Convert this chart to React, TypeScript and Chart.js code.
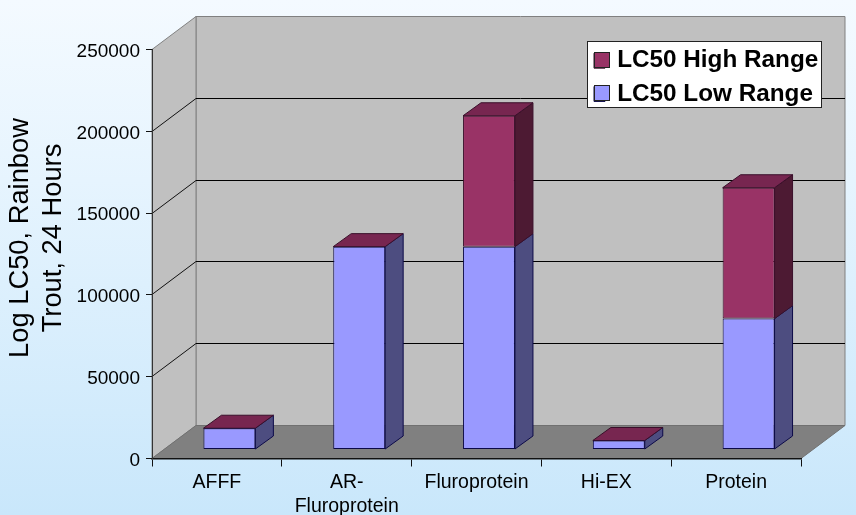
import React, { useEffect, useRef } from "react";
import { Chart, registerables } from "chart.js";

Chart.register(...registerables);

const categories: (string | string[])[] = ["AFFF", ["AR-", "Fluroprotein"], "Fluroprotein", "Hi-EX", "Protein"];
const lowRange = [13000, 124000, 124000, 5500, 80000];
const highRange = [0, 0, 80000, 0, 80000];
const yTicksMax = 250000;
const yStep = 50000;

const FONT = "'Liberation Sans', Arial, sans-serif";
const WALL_DX = 44;
const WALL_DY = -33;
const BAR_DX = 12.5;
const BAR_DY = -9;
const DEPTH_DX = 18;
const DEPTH_DY = -13;

const poly = (ctx: CanvasRenderingContext2D, pts: number[][], fill: string, stroke?: string) => {
  ctx.beginPath();
  pts.forEach((p, i) => (i ? ctx.lineTo(p[0], p[1]) : ctx.moveTo(p[0], p[1])));
  ctx.closePath();
  ctx.fillStyle = fill;
  ctx.fill();
  if (stroke) {
    ctx.strokeStyle = stroke;
    ctx.lineWidth = 1;
    ctx.stroke();
  }
};

const line = (ctx: CanvasRenderingContext2D, x1: number, y1: number, x2: number, y2: number, color: string) => {
  ctx.beginPath();
  ctx.moveTo(x1, y1);
  ctx.lineTo(x2, y2);
  ctx.strokeStyle = color;
  ctx.lineWidth = 1;
  ctx.stroke();
};

const scene = {
  id: "scene3d",
  afterLayout(chart: any) {
    const lg = chart.legend;
    lg.left = 585;
    lg.right = 825;
    lg.top = 39.5;
    lg.bottom = 130;
    lg.width = 240;
    lg.height = 90.5;
    lg.adjustHitBoxes();
    const yS = chart.scales.y;
    if (!yS.__titleShifted) {
      yS.__titleShifted = true;
      const drawTitle = yS.drawTitle.bind(yS);
      yS.drawTitle = () => {
        chart.ctx.save();
        chart.ctx.translate(0, -16);
        drawTitle();
        chart.ctx.restore();
      };
    }
  },
  beforeDraw(chart: any) {
    const { ctx, scales } = chart;
    const yS = scales.y;
    const xS = scales.x;
    const L = xS.left;
    const R = xS.right;
    const T = yS.getPixelForValue(yTicksMax);
    const B = yS.getPixelForValue(0);
    ctx.save();
    poly(ctx, [[L + WALL_DX, T + WALL_DY], [R + WALL_DX, T + WALL_DY], [R + WALL_DX, B + WALL_DY], [L + WALL_DX, B + WALL_DY]], "#c0c0c0", "#808080");
    poly(ctx, [[L, T], [L + WALL_DX, T + WALL_DY], [L + WALL_DX, B + WALL_DY], [L, B]], "#c0c0c0", "#808080");
    poly(ctx, [[L, B], [L + WALL_DX, B + WALL_DY], [R + WALL_DX, B + WALL_DY], [R, B]], "#808080", "#707070");
    yS.ticks.forEach((t: any) => {
      if (t.value === 0 || t.value === yTicksMax) return;
      const py = Math.floor(yS.getPixelForValue(t.value) + WALL_DY) + 0.5;
      line(ctx, L, py - WALL_DY, L + WALL_DX, py, "#111");
      line(ctx, L + WALL_DX, py, R + WALL_DX, py, "#000");
    });
    // legend panel
    ctx.fillStyle = "#ffffff";
    ctx.strokeStyle = "#222";
    ctx.lineWidth = 1;
    ctx.fillRect(587.5, 41.5, 234, 66);
    ctx.strokeRect(587.5, 41.5, 234, 66);
    ctx.restore();
  },
  beforeDatasetsDraw(chart: any) {
    const { ctx } = chart;
    ctx.save();
    ctx.translate(BAR_DX, BAR_DY);
    const n = chart.data.labels.length;
    for (let i = 0; i < n; i++) {
      chart.data.datasets.forEach((ds: any, d: number) => {
        const bar = chart.getDatasetMeta(d).data[i];
        const { x, y, base, width } = bar.getProps(["x", "y", "base", "width"], true);
        const xr = x + width / 2;
        const xl = x - width / 2;
        if (Math.abs(base - y) > 0.01) {
          poly(ctx, [[xr, y], [xr + DEPTH_DX, y + DEPTH_DY], [xr + DEPTH_DX, base + DEPTH_DY], [xr, base]], ds.sideColor, ds.borderColor);
        }
        if (d === chart.data.datasets.length - 1) {
          poly(ctx, [[xl, y], [xl + DEPTH_DX, y + DEPTH_DY], [xr + DEPTH_DX, y + DEPTH_DY], [xr, y]], ds.topColor, ds.borderColor);
        }
      });
    }
  },
  afterDatasetsDraw(chart: any) {
    chart.ctx.restore();
  },
  afterDraw(chart: any) {
    const { ctx, legend } = chart;
    ctx.save();
    legend.legendItems.forEach((item: any, i: number) => {
      const top = 52 + i * 33;
      ctx.fillStyle = item.fillStyle;
      ctx.strokeStyle = "#222";
      ctx.lineWidth = 1;
      ctx.fillRect(594.5, top + 0.5, 15, 15);
      ctx.strokeRect(594.5, top + 0.5, 15, 15);
    });
    ctx.restore();
  },
};

export default function App() {
  const ref = useRef<HTMLCanvasElement>(null);
  useEffect(() => {
    document.body.style.margin = "0";
    document.body.style.overflow = "hidden";
    const chart = new Chart(ref.current as HTMLCanvasElement, {
      type: "bar",
      plugins: [scene],
      data: {
        labels: categories as any,
        datasets: [
          {
            label: "LC50 Low Range",
            data: lowRange,
            backgroundColor: "#9999ff",
            borderColor: "#0c0a48",
            borderWidth: 1,
            borderSkipped: false,
            sideColor: "#4d4d80",
            topColor: "#4d4d80",
            clip: false,
          } as any,
          {
            label: "LC50 High Range",
            data: highRange,
            backgroundColor: "#993366",
            borderColor: "#3a0f2a",
            borderWidth: 1,
            borderSkipped: false,
            sideColor: "#4d1a33",
            topColor: "#772650",
            clip: false,
          } as any,
        ],
      },
      options: {
        responsive: false,
        animation: false,
        events: [],
        layout: { padding: { left: 0, top: 49.5, right: 55, bottom: 0 } },
        datasets: { bar: { barPercentage: 0.4, categoryPercentage: 1 } },
        plugins: {
          tooltip: { enabled: false },
          title: { display: false },
          legend: {
            display: true,
            position: "chartArea",
            align: "start",
            reverse: true,
            labels: {
              font: { family: FONT, size: 24.3, weight: "bold" },
              color: "#000",
              boxWidth: 11,
              boxHeight: 15,
              padding: 9,
            },
          },
        },
        scales: {
          x: {
            stacked: true,
            afterFit: (s: any) => { s.height = 56.5; s.paddingLeft = 0; s.paddingRight = 0; },
            border: { color: "#111", width: 1.5 },
            grid: { drawOnChartArea: false, drawTicks: true, tickLength: 8, color: "#111" },
            ticks: {
              color: "#000",
              font: { family: FONT, size: 19.5, lineHeight: 1.24 },
              maxRotation: 0,
              minRotation: 0,
              autoSkip: false,
              padding: 4,
            },
          },
          y: {
            stacked: true,
            min: 0,
            max: yTicksMax,
            afterFit: (s: any) => { s.width = 152; s.paddingTop = 0; s.paddingBottom = 0; },
            border: { color: "#333", width: 1 },
            grid: { drawOnChartArea: false, drawTicks: true, tickLength: 6, color: "#111" },
            ticks: {
              stepSize: yStep,
              color: "#000",
              font: { family: FONT, size: 19 },
              padding: 6,
              labelOffset: 2,
              callback: (v: any) => String(v),
            },
            title: {
              display: true,
              text: ["Log LC50, Rainbow", "Trout, 24 Hours"],
              color: "#000",
              font: { family: FONT, size: 27.3, lineHeight: 1.2 },
              padding: { top: 4, bottom: 0 },
            },
          },
        },
      } as any,
    });
    return () => chart.destroy();
  }, []);
  return (
    <div style={{ width: 856, height: 515, background: "linear-gradient(180deg, #f4faff 0%, #e6f4fe 35%, #c9e7fb 100%)" }}>
      <canvas ref={ref} width={856} height={515} style={{ display: "block" }} />
    </div>
  );
}
